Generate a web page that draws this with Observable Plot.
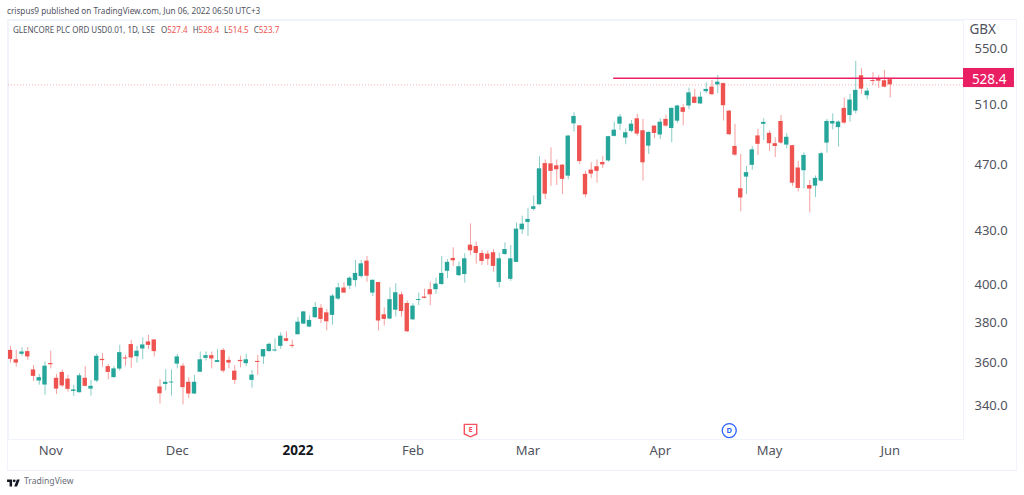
<!DOCTYPE html>
<html><head><meta charset="utf-8">
<script src="https://cdn.jsdelivr.net/npm/d3@7"></script>
<script src="https://cdn.jsdelivr.net/npm/@observablehq/plot@0.6"></script>
<style>
html,body{margin:0;padding:0;background:#fff;width:1024px;height:495px;overflow:hidden;font-family:"Noto Sans",sans-serif}
#wrap{position:relative;width:1024px;height:495px}
#box{position:absolute;left:7px;top:19px;width:1008px;height:450px;border:1px solid #f0f3fa;box-sizing:content-box}
.h{position:absolute;white-space:nowrap}
#pub{left:7px;top:5px;font-size:8.2px;color:#50535e}
#leg{left:13px;top:24px;font-size:8px;color:#50535e}
#leg b{font-weight:400;color:#ef5350;margin-right:5px}
#leg span.n{margin-right:4px}
#tv{left:24px;top:475px;font-size:8.6px;color:#6a6d78}
#logo{position:absolute;left:7px;top:478px}
svg.plot{position:absolute;left:0;top:0;background:transparent}
</style></head>
<body><div id="wrap">
<div id="box"></div>
<div class="h" id="pub">crispus9 published on TradingView.com, Jun 06, 2022 06:50 UTC+3</div>
<div class="h" id="leg"><span class="n">GLENCORE PLC ORD USD0.01, 1D, LSE</span> O<b>527.4</b>H<b>528.4</b>L<b>514.5</b>C<b>523.7</b></div>
<svg id="logo" width="13" height="10" viewBox="0 0 36 28"><path fill="#131722" d="M14 24H7V11H0V4h14v20zM28 24h-8l7.5-20h8L28 24z"/><circle cx="20" cy="8" r="4" fill="#131722"/></svg>
<div class="h" id="tv">TradingView</div>
</div>
<script>
const open = [
366.2,361.6,364.3,365.6,356.7,351.4,349.5,359.8,352.7,355.5,
352.3,346.5,345.9,352.7,347.6,351.4,361.8,358.3,353.0,357.1,
362.5,369.1,363.1,366.9,370.4,371.4,348.6,349.8,350.5,359.5,
358.5,350.8,345.3,355.6,362.3,363.6,360.3,366.2,361.3,356.1,
361.3,359.7,351.7,360.8,363.0,365.6,365.9,368.2,372.0,368.7,
374.0,379.4,377.9,382.7,387.6,385.2,383.9,392.4,398.3,399.3,
402.3,404.5,413.0,395.6,401.3,384.2,382.0,386.6,394.7,390.1,
381.6,391.7,393.5,397.4,397.4,400.2,407.4,414.5,405.0,405.6,
422.0,421.2,417.3,416.9,417.7,401.3,416.7,403.0,412.3,430.8,
435.1,442.8,445.6,471.0,470.8,469.6,470.0,463.1,496.9,495.6,
464.2,466.9,469.0,471.7,472.7,488.6,496.7,487.5,491.9,500.3,
492.3,482.2,495.4,489.5,499.9,493.8,498.7,507.8,509.0,515.1,
510.4,518.9,522.1,523.7,524.6,505.5,482.0,455.3,462.5,469.9,
488.9,496.6,490.6,483.8,498.5,482.9,482.5,468.2,466.5,457.3,
456.9,460.0,484.2,496.8,494.4,507.4,502.5,505.5,530.2,516.1,
526.8,527.5,526.6,527.4];
const close = [
361.8,360.0,365.4,363.0,353.6,353.0,358.5,359.2,347.6,349.1,
347.5,347.2,353.9,348.9,348.9,363.3,361.2,355.5,357.2,365.1,
362.0,362.5,365.8,368.9,368.7,365.6,345.4,350.8,350.9,363.0,
348.3,345.3,350.8,361.6,363.6,362.0,361.2,356.1,360.0,351.7,
360.7,361.6,354.2,360.3,366.6,369.2,366.4,373.3,370.7,368.2,
380.4,385.7,381.3,388.0,381.8,380.6,394.0,398.4,395.6,403.6,
406.2,411.5,404.7,402.5,381.0,381.8,392.1,395.8,385.9,375.5,
388.7,392.2,392.8,394.7,400.4,406.2,412.3,413.2,409.9,414.3,
418.8,417.3,412.8,414.0,410.1,414.3,419.5,414.3,431.2,434.1,
436.9,444.4,467.7,452.0,466.1,467.1,461.1,488.8,501.9,472.3,
451.6,464.4,466.1,470.2,488.4,492.7,501.5,491.0,496.7,490.1,
471.5,491.2,490.5,498.0,495.4,507.4,509.0,504.7,518.1,510.8,
515.1,520.5,516.8,525.6,509.2,489.7,476.4,449.7,465.3,479.8,
483.4,497.9,483.8,482.0,484.2,488.0,458.7,455.5,476.2,455.1,
461.7,477.3,498.5,498.5,498.1,497.4,513.1,519.8,520.7,519.3,
526.1,526.3,522.1,523.7];
const high = [
368.2,366.2,367.6,367.6,358.8,354.5,360.5,365.9,354.5,356.7,
354.1,349.4,354.9,358.3,351.7,364.3,364.6,359.3,358.3,368.7,
363.8,371.2,368.2,372.4,373.7,371.5,352.0,356.7,356.7,364.3,
359.7,353.0,354.1,365.4,365.4,365.4,366.6,367.1,363.0,358.8,
363.3,364.3,356.4,363.8,366.6,369.9,372.0,375.0,375.5,371.2,
382.8,385.7,383.7,390.6,389.6,386.9,394.9,400.9,401.1,404.5,
413.4,413.4,415.6,402.5,401.3,387.8,398.4,400.6,396.1,391.4,
389.9,395.6,397.7,401.4,403.7,415.6,413.8,420.5,412.5,417.1,
434.3,423.7,419.0,418.6,419.4,417.5,423.3,421.8,434.7,438.8,
443.3,451.0,475.4,473.3,481.1,473.3,470.4,489.2,504.4,495.8,
466.1,471.5,473.3,475.7,488.6,498.0,503.3,493.6,499.2,503.3,
499.9,491.6,495.6,500.3,502.6,507.6,509.4,509.9,521.5,520.5,
518.6,525.1,526.8,530.4,524.9,506.0,496.6,476.9,469.3,482.0,
493.3,500.3,492.2,487.8,502.5,490.4,482.7,472.4,477.9,460.4,
463.2,478.3,499.9,503.7,498.8,514.5,517.0,540.5,535.2,521.4,
532.4,530.4,534.0,528.4];
const low = [
360.0,358.0,363.3,361.3,351.2,349.4,344.7,357.2,345.1,348.3,
346.2,344.2,345.8,348.6,344.3,350.6,358.0,352.0,352.8,356.1,
358.5,357.5,360.0,361.8,366.6,363.0,340.7,346.7,344.3,357.2,
340.3,343.1,345.1,355.5,361.0,357.2,360.2,355.2,357.2,349.8,
357.7,358.3,348.0,354.1,359.3,365.4,365.4,366.7,370.4,367.2,
374.0,379.3,377.6,382.2,379.6,376.0,378.8,391.7,395.6,397.4,
398.8,403.6,401.4,393.8,375.9,378.4,381.6,383.0,383.0,375.2,
381.3,389.0,392.6,389.0,394.9,399.7,403.4,410.1,404.5,400.9,
416.2,411.2,410.6,410.6,406.9,398.3,416.2,401.9,412.3,428.1,
427.0,441.8,445.2,448.8,456.7,457.3,451.8,460.9,491.4,470.4,
449.8,461.5,458.8,467.9,471.9,488.1,492.5,483.1,491.0,488.8,
460.0,476.8,487.0,486.6,494.7,484.4,497.4,495.6,506.5,510.6,
510.1,517.5,516.3,517.5,498.8,489.1,475.6,441.4,451.9,466.7,
476.2,486.0,478.8,474.8,483.4,480.5,456.7,453.3,455.3,440.8,
449.9,459.4,477.7,492.9,481.6,496.6,498.1,503.7,517.0,513.3,
523.2,521.1,521.6,514.5];

const priceTicks = [550,510,470,430,400,380,360,340];
const monthIdx = [7,29,70,90,113,132,153];
const monthNames = ["Nov","Dec","Feb","Mar","Apr","May","Jun"];
const yearIdx = [50];
const yearNames = ["2022"];
const resistance = 528.4;
const lastClose = 523.7;
const resistanceStart = 104.9;
const tag = {x1:165.74, x2:174.6, y1:535.4, y2:521.8, xText:167.2, yText:527.6};
const events = [{i:80, p:328.7, label:"E"}];
const divs = [{i:125, p:328.7, label:"D"}];

const GREEN="#26a69a", RED="#ef5350", CRIMSON="#e91e63", BORDER="#f0f3fa";
const candles = d3.range(open.length).map(i=>({i,o:open[i],h:high[i],l:low[i],c:close[i]}));
const col = d=>d.c>=d.o?GREEN:RED;
const half = 0.38;
const shield = {draw(ctx,size){const w=Math.sqrt(size)/2;
  ctx.moveTo(-w,-w);ctx.lineTo(w,-w);ctx.lineTo(w,w*0.55);ctx.lineTo(0,w);ctx.lineTo(-w,w*0.55);ctx.closePath();}};

const chart = Plot.plot({
  width:1024,height:495,
  marginLeft:8,marginRight:61,marginTop:20,marginBottom:56,
  style:{background:"transparent",fontFamily:"'Noto Sans',sans-serif",overflow:"visible"},
  x:{type:"linear",domain:[-0.348,165.74]},
  y:{type:"log",domain:[550,340],range:[48,405]},
  marks:[
    Plot.frame({stroke:BORDER}),
    Plot.ruleY([lastClose],{stroke:RED,strokeOpacity:.45,strokeWidth:1,strokeDasharray:"1,2"}),
    Plot.ruleX(candles,{x:"i",y1:"l",y2:"h",stroke:col,strokeWidth:1,strokeOpacity:.55}),
    Plot.rect(candles,{x1:d=>d.i-half,x2:d=>d.i+half,y1:d=>Math.min(d.o,d.c),y2:d=>Math.max(d.o,d.c),fill:col}),
    Plot.ruleY([resistance],{x1:resistanceStart,x2:165.74,stroke:CRIMSON,strokeWidth:1.3}),
    Plot.axisY({anchor:"right",ticks:priceTicks,tickFormat:d=>d.toFixed(1),tickSize:0,tickPadding:11,label:null,fontSize:13,color:"#50535e"}),
    Plot.axisX({anchor:"bottom",ticks:monthIdx,tickFormat:d=>monthNames[monthIdx.indexOf(d)],tickSize:0,tickPadding:6,label:null,fontSize:13,color:"#50535e"}),
    Plot.axisX({anchor:"bottom",ticks:yearIdx,tickFormat:d=>yearNames[yearIdx.indexOf(d)],tickSize:0,tickPadding:6,label:null,fontSize:13.5,fontWeight:700,color:"#131722"}),
    Plot.rect([tag],{x1:"x1",x2:"x2",y1:"y1",y2:"y2",fill:CRIMSON}),
    Plot.text([resistance],{x:tag.xText,y:tag.yText,text:d=>d.toFixed(1),fill:"#fff",fontSize:13.5,textAnchor:"start"}),
    Plot.text(["GBX"],{frameAnchor:"top-right",dx:6,dy:4,text:d=>d,textAnchor:"start",lineAnchor:"top",fontSize:13.5,fill:"#50535e"}),
    Plot.dot(events,{x:"i",y:"p",symbol:shield,r:7,stroke:"#f7525f",strokeWidth:1.4,fill:"#fff"}),
    Plot.text(events,{x:"i",y:"p",text:"label",fill:"#f7525f",fontSize:7.5,fontWeight:700,dy:-1}),
    Plot.dot(divs,{x:"i",y:"p",r:7,stroke:"#2962ff",strokeWidth:1.3,fill:"#fff"}),
    Plot.text(divs,{x:"i",y:"p",text:"label",fill:"#2962ff",fontSize:7.5,fontWeight:700})
  ]
});
document.getElementById("wrap").appendChild(chart);
</script>
</body></html>
